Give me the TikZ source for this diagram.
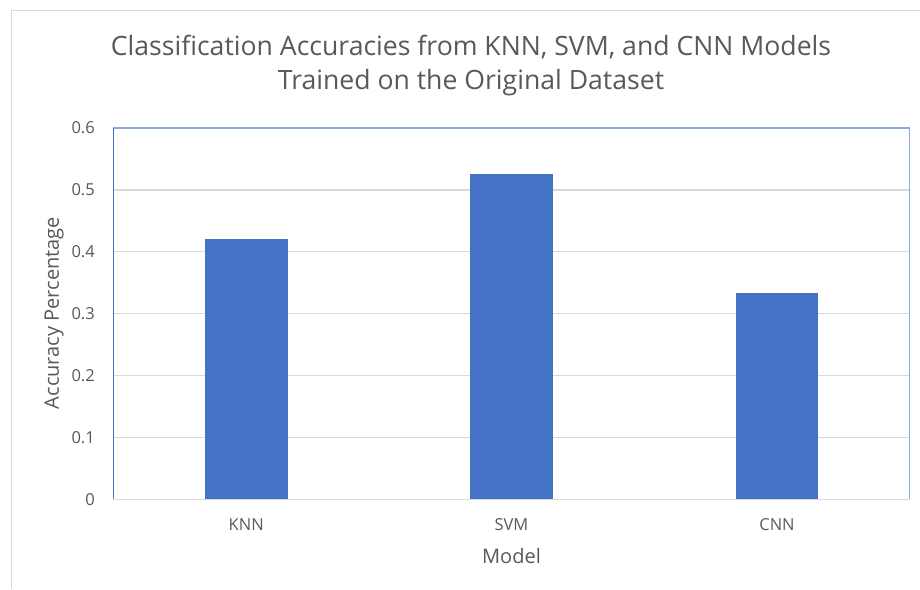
\documentclass[tikz,border=0pt]{standalone}
\usepackage{fontspec}
\setmainfont{Open Sans}
\definecolor{bar}{HTML}{4472C4}
\definecolor{grid}{HTML}{D9D9D9}
\definecolor{txt}{HTML}{595959}
\definecolor{frame}{HTML}{D9D9D9}
\definecolor{plotb}{HTML}{8FAADC}
\definecolor{plotl}{HTML}{4472C4}
\tikzset{
  lbl/.style={text=txt, font=\fontsize{16.5}{18}\selectfont, inner sep=0pt},
  ttl/.style={text=txt, font=\fontsize{26.6}{33}\selectfont, inner sep=0pt, align=center},
  axt/.style={text=txt, font=\fontsize{20}{22}\selectfont, inner sep=0pt},
  gridl/.style={draw=grid, line width=1.2pt},
  barf/.style={fill=bar}
}
\begin{document}
\begin{tikzpicture}[x=1pt,y=-1pt]
\useasboundingbox (0,0) rectangle (920,589);
\fill[white] (0,0) rectangle (920,589);
% outer chart frame
\draw[frame, line width=1pt] (11,589) -- (11,10) -- (920,10);
% gridlines
\foreach \v in {1,...,5} {
  \draw[gridl] (113.3,{499.3-61.88*\v}) -- (909.7,{499.3-61.88*\v});
}
\draw[gridl] (113.3,499.3) -- (909.7,499.3);
% plot area border
\draw[plotb, line width=1.2pt] (113.3,128) -- (909.7,128) -- (909.7,499.3);
\draw[plotl, line width=1pt] (113.3,499.3) -- (113.3,128);
% bars
\fill[barf] (204.7,499.3) rectangle (287.7,{499.3-618.8*0.4206});
\fill[barf] (470,499.3) rectangle (553,{499.3-618.8*0.526});
\fill[barf] (735.7,499.3) rectangle (818.3,{499.3-618.8*0.3334});
% y tick labels
\foreach \v/\t in {0/0,1/0.1,2/0.2,3/0.3,4/0.4,5/0.5,6/0.6} {
  \node[lbl, anchor=east] (yt\v) at (95,{499.3-61.88*\v}) {\t};
}
% x tick labels
\node[lbl] (xknn) at (246.2,525) {KNN};
\node[lbl] (xsvm) at (511.5,525) {SVM};
\node[lbl] (xcnn) at (777,525) {CNN};
% axis titles
\node[axt] (xtitle) at (511.5,556) {Model};
\node[axt, rotate=90] (ytitle) at (54,313) {Accuracy Percentage};
% title
\node[ttl] (title1) at (471,47) {Classification Accuracies from KNN, SVM, and CNN Models};
\node[ttl] (title2) at (471,83) {Trained on the Original Dataset};
\end{tikzpicture}
\end{document}
